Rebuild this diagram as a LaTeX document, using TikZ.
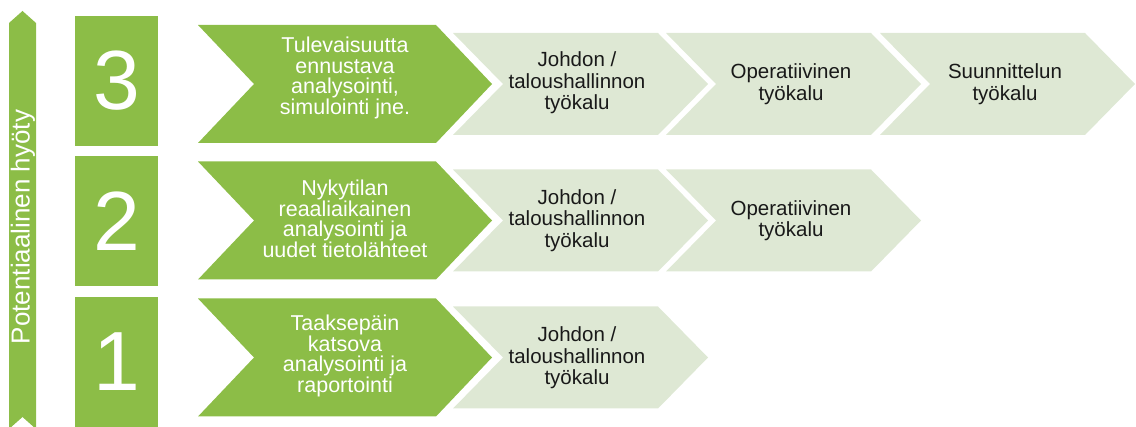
\documentclass[tikz,border=0pt]{standalone}
\usepackage{fontspec}
\setmainfont{Liberation Sans}
\definecolor{grn}{RGB}{140,189,71}
\definecolor{lgt}{RGB}{222,232,212}
\definecolor{txt}{RGB}{25,25,25}
\newcommand\chevshape[6]{%
  \fill[#1] (#2,#4-#5) -- (#3-#6,#4-#5) -- (#3,#4) -- (#3-#6,#4+#5) -- (#2,#4+#5) -- (#2+#6,#4) -- cycle;}
\begin{document}
\begin{tikzpicture}[x=1pt,y=-1pt]
\tikzset{
  numbox/.style={fill=grn, draw=none, minimum width=83pt, minimum height=130pt, inner sep=0pt,
    text=white, font=\fontsize{84}{84}\selectfont},
  gtext/.style={text=white, align=center, font=\fontsize{21.5}{20.5}\selectfont, inner sep=0pt},
  ltext/.style={text=txt, align=center, font=\fontsize{20.5}{21.5}\selectfont, inner sep=0pt},
}
\useasboundingbox (0,0) rectangle (1136,427);
% vertical arrow
\fill[grn] (9,23) -- (22.5,11) -- (36,23) -- (36,429) -- (22.5,417) -- (9,429) -- cycle;
\node[rotate=90, text=white, font=\fontsize{26}{26}\selectfont, inner sep=0pt] (axis) at (23,227) {Potentiaalinen hyöty};
% number boxes
\node[numbox] (n3) at (116.5,81) {3};
\node[numbox] (n2) at (116.5,221) {2};
\node[numbox] (n1) at (116.5,362) {1};
% row 3
\chevshape{grn}{198}{492}{84}{59}{56}
\chevshape{lgt}{453}{708}{84}{51}{50}
\chevshape{lgt}{666}{921}{84}{51}{50}
\chevshape{lgt}{880}{1135}{84}{51}{50}
\node[gtext] (g3) at (345,78) {Tulevaisuutta\\ennustava\\analysointi,\\simulointi jne.};
\node[ltext] (a3) at (577,83) {Johdon /\\taloushallinnon\\työkalu};
\node[ltext] (b3) at (791,84) {Operatiivinen\\työkalu};
\node[ltext] (c3) at (1005,84) {Suunnittelun\\työkalu};
% row 2
\chevshape{grn}{198}{492}{220.5}{59}{56}
\chevshape{lgt}{453}{708}{220.5}{51}{50}
\chevshape{lgt}{666}{921}{220.5}{51}{50}
\node[gtext] (g2) at (345,219) {Nykytilan\\reaaliaikainen\\analysointi ja\\uudet tietolähteet};
\node[ltext] (a2) at (577,220.5) {Johdon /\\taloushallinnon\\työkalu};
\node[ltext] (b2) at (791,220.5) {Operatiivinen\\työkalu};
% row 1
\chevshape{grn}{198}{492}{357.5}{59}{56}
\chevshape{lgt}{453}{708}{357.5}{51}{50}
\node[gtext] (g1) at (345,356) {Taaksepäin\\katsova\\analysointi ja\\raportointi};
\node[ltext] (a1) at (577,358) {Johdon /\\taloushallinnon\\työkalu};
\end{tikzpicture}
\end{document}
